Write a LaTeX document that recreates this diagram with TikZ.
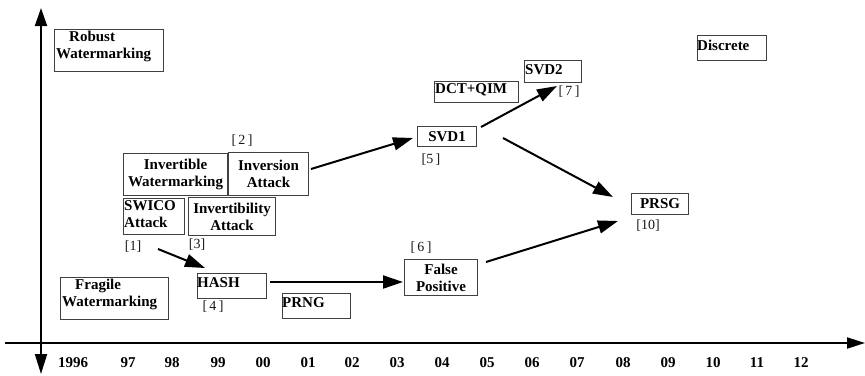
\documentclass[tikz,border=0pt]{standalone}
\usepackage{fontspec}
\setmainfont{Liberation Serif}
\usetikzlibrary{arrows.meta}
\begin{document}
\begin{tikzpicture}[x=1pt,y=-1pt,
  box/.style={draw=black!75, line width=1.1pt, inner sep=0pt, anchor=north west,
    font=\fontsize{15}{17}\selectfont\bfseries, align=center},
  txt/.style={inner sep=0pt, font=\fontsize{15}{17}\selectfont\bfseries, align=left},
  ref/.style={inner sep=0pt, text=black!90, font=\fontsize{14}{16}\selectfont},
  year/.style={inner sep=0pt, font=\fontsize{15}{17}\selectfont\bfseries},
  conn/.style={line width=2pt, -{Triangle[length=20pt,width=13pt]}},
  axis/.style={line width=2pt}]
\useasboundingbox (0,0) rectangle (865,375);
% axes
\coordinate (ytop) at (41,8);
\coordinate (ybot) at (41,374);
\coordinate (xl) at (5,343);
\coordinate (xr) at (865,343);
\draw[axis, {Triangle[length=20pt,width=12pt]}-{Triangle[length=18pt,width=12pt]}] (ybot) -- (ytop);
\draw[axis, -{Triangle[length=18pt,width=11pt]}] (xl) -- (xr);
% years
\foreach \x/\t in {73/1996,128/97,172/98,218/99,263/00,308/01,352/02,397/03,442/04,487/05,532/06,577/07,623/08,668/09,713/10,757/11,801/12}
  \node[year] (y\t) at (\x,363) {\t};
% boxes
\node[box, minimum width=109pt, minimum height=42pt] (robust) at (54,29) {};
\node[txt, anchor=north west] (robustt) at (56,31) {\hspace*{13pt}Robust\\Watermarking};
\node[box, minimum width=69pt, minimum height=25pt] (discrete) at (697,35) {};
\node[txt, anchor=west] (discretet) at (697,45) {Discrete};
\node[box, minimum width=84pt, minimum height=21pt] (dct) at (434,81) {};
\node[txt, anchor=west] (dctt) at (435,90) {DCT+QIM};
\node[box, minimum width=57pt, minimum height=22pt] (svd2) at (524,60) {};
\node[txt, anchor=west] (svd2t) at (525,70) {SVD2};
\node[box, minimum width=59pt, minimum height=20pt] (svd1) at (417,126) {SVD1};
\node[box, minimum width=104pt, minimum height=42pt] (invw) at (123,153) {Invertible\\Watermarking};
\node[box, minimum width=80pt, minimum height=43pt] (inva) at (228,152) {Inversion\\Attack};
\node[box, minimum width=61pt, minimum height=36pt] (swico) at (123,198) {};
\node[txt, anchor=north west] (swicot) at (124,200) {SWICO\\Attack};
\node[box, minimum width=87pt, minimum height=38pt] (invb) at (188,197) {Invertibility\\Attack};
\node[box, minimum width=69pt, minimum height=25pt] (hash) at (197,273) {};
\node[txt, anchor=west] (hasht) at (197,283) {HASH};
\node[box, minimum width=68pt, minimum height=25pt] (prng) at (282,293) {};
\node[txt, anchor=west] (prngt) at (282,303) {PRNG};
\node[box, minimum width=108pt, minimum height=42pt] (fragile) at (60,277) {};
\node[txt, anchor=north west] (fragilet) at (62,279) {\hspace*{13pt}Fragile\\Watermarking};
\node[box, minimum width=73pt, minimum height=36pt] (fp) at (404,259) {False\\Positive};
\node[box, minimum width=57pt, minimum height=21pt] (prsg) at (631,193) {PRSG};
% references
\node[ref] (r1) at (133,247) {[1]};
\node[ref] (r2) at (242,141) {[\,2\,]};
\node[ref] (r3) at (197,245) {[3]};
\node[ref] (r4) at (213,307) {[\,4\,]};
\node[ref] (r5) at (431,160) {[5\,]};
\node[ref] (r6) at (421,248) {[\,6\,]};
\node[ref] (r7) at (569,92) {[\,7\,]};
\node[ref] (r10) at (648,226) {[10]};
% connectors
\coordinate (c1s) at (158,249); \coordinate (c1e) at (205,268);
\coordinate (c2s) at (311,169); \coordinate (c2e) at (413,138);
\coordinate (c3s) at (481,127); \coordinate (c3e) at (557,86);
\coordinate (c4s) at (503,138); \coordinate (c4e) at (613,197);
\coordinate (c5s) at (270,282); \coordinate (c5e) at (403,282);
\coordinate (c6s) at (486,262); \coordinate (c6e) at (618,221);
\draw[conn] (c1s) -- (c1e);
\draw[conn] (c2s) -- (c2e);
\draw[conn] (c3s) -- (c3e);
\draw[conn] (c4s) -- (c4e);
\draw[conn] (c5s) -- (c5e);
\draw[conn] (c6s) -- (c6e);
\end{tikzpicture}
\end{document}
